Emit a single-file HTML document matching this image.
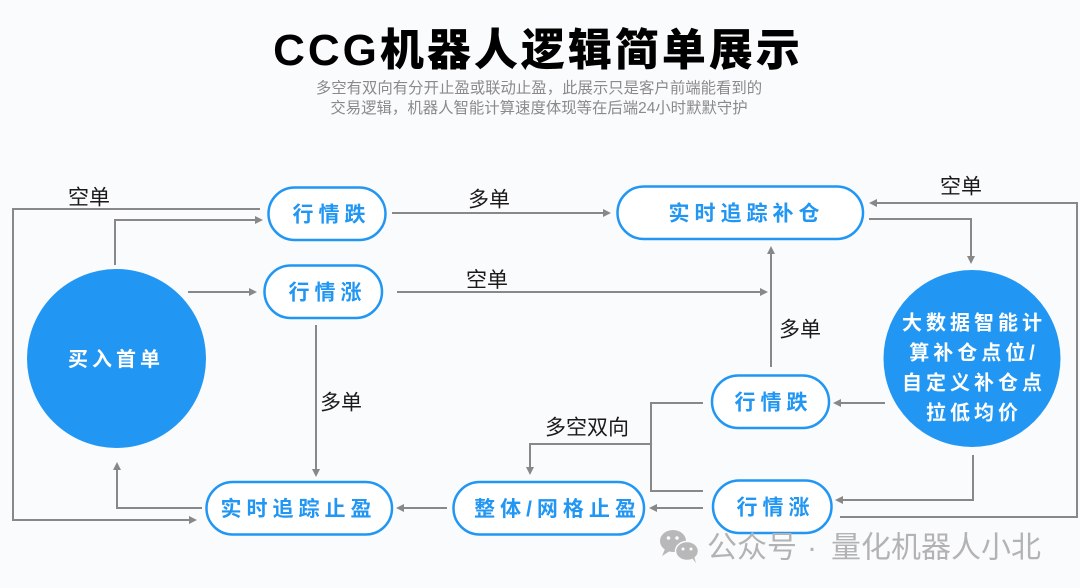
<!DOCTYPE html>
<html>
<head>
<meta charset="utf-8">
<style>
html,body{margin:0;padding:0;background:#fafbfc;}
svg{display:block;}
.t{font-family:"Liberation Sans","Noto Sans CJK SC",sans-serif;}
.pill{fill:#fff;stroke:#2196f3;stroke-width:2.5;}
.pt{fill:#2196f3;font-weight:bold;font-size:21px;letter-spacing:5px;}
.ct{fill:#fff;font-weight:bold;font-size:20px;letter-spacing:4px;}
.ln{fill:none;stroke:#888;stroke-width:2;}
.ah{fill:#888;}
.lb{fill:#1a1a1a;font-size:21px;}
</style>
</head>
<body>
<svg width="1080" height="588" viewBox="0 0 1080 588" xmlns="http://www.w3.org/2000/svg">
<rect x="0" y="0" width="1080" height="588" fill="#fafbfc"/>

<!-- Title -->
<text class="t" x="538" y="65" text-anchor="middle" font-size="44" font-weight="900" fill="#000" letter-spacing="3">CCG机器人逻辑简单展示</text>
<text class="t" x="539" y="93" text-anchor="middle" font-size="15.4" fill="#8a8a8a">多空有双向有分开止盈或联动止盈，此展示只是客户前端能看到的</text>
<text class="t" x="539" y="113" text-anchor="middle" font-size="15.4" fill="#8a8a8a">交易逻辑，机器人智能计算速度体现等在后端24小时默默守护</text>

<!-- Connectors -->
<polyline class="ln" points="260,209 13,209 13,520 190,520"/>
<polygon class="ah" points="197,520 189,516 189,524"/>
<polyline class="ln" points="115,265 115,220 256,220"/>
<polygon class="ah" points="263,220 255,216 255,224"/>
<line class="ln" x1="188" y1="292" x2="250" y2="292"/>
<polygon class="ah" points="257,292 249,288 249,296"/>
<line class="ln" x1="392" y1="213" x2="604" y2="213"/>
<polygon class="ah" points="611,213 603,209 603,217"/>
<line class="ln" x1="397" y1="292" x2="761" y2="292"/>
<polygon class="ah" points="768,292 760,288 760,296"/>
<line class="ln" x1="316" y1="325" x2="316" y2="470"/>
<polygon class="ah" points="316,477 312,469 320,469"/>
<polyline class="ln" points="202,508 117,508 117,469"/>
<polygon class="ah" points="117,462 113,470 121,470"/>
<line class="ln" x1="447" y1="508" x2="403" y2="508"/>
<polygon class="ah" points="396,508 404,504 404,512"/>
<line class="ln" x1="703" y1="508" x2="656" y2="508"/>
<polygon class="ah" points="649,508 657,504 657,512"/>
<polyline class="ln" points="703,403 651,403 651,491 703,491"/>
<polyline class="ln" points="651,444 530,444 530,468"/>
<polygon class="ah" points="530,475 526,467 534,467"/>
<line class="ln" x1="771" y1="367" x2="771" y2="253"/>
<polygon class="ah" points="771,246 767,254 775,254"/>
<polyline class="ln" points="869,219 971,219 971,257"/>
<polygon class="ah" points="971,264 967,256 975,256"/>
<line class="ln" x1="885" y1="403" x2="840" y2="403"/>
<polygon class="ah" points="833,403 841,399 841,407"/>
<polyline class="ln" points="973,455 973,500 842,500"/>
<polygon class="ah" points="835,500 843,496 843,504"/>
<polyline class="ln" points="840,517 1077,517 1077,203 876,203"/>
<polygon class="ah" points="869,203 877,199 877,207"/>

<!-- Labels -->
<text class="t lb" x="68" y="204.5">空单</text>
<text class="t lb" x="468" y="206.5">多单</text>
<text class="t lb" x="466" y="287">空单</text>
<text class="t lb" x="779" y="336.5">多单</text>
<text class="t lb" x="940" y="193.5">空单</text>
<text class="t lb" x="320" y="409.5">多单</text>
<text class="t lb" x="545" y="434.5">多空双向</text>

<!-- Circles -->
<circle cx="116.5" cy="358.5" r="89.5" fill="#2196f3"/>
<text class="t ct" x="116" y="366" text-anchor="middle">买入首单</text>

<circle cx="972" cy="358.5" r="88.5" fill="#2196f3"/>
<text class="t ct" x="974" y="329.5" text-anchor="middle">大数据智能计</text>
<text class="t ct" x="974" y="359.5" text-anchor="middle">算补仓点位/</text>
<text class="t ct" x="974" y="389.5" text-anchor="middle">自定义补仓点</text>
<text class="t ct" x="974" y="419.5" text-anchor="middle">拉低均价</text>

<!-- Pills -->
<rect class="pill" x="268.5" y="187.5" width="117" height="52.5" rx="26.25"/>
<text class="t pt" x="331.5" y="221.5" text-anchor="middle">行情跌</text>

<rect class="pill" x="264.5" y="265.5" width="117.5" height="52.5" rx="26.25"/>
<text class="t pt" x="327.5" y="299.5" text-anchor="middle">行情涨</text>

<rect class="pill" x="617.5" y="186.5" width="245.5" height="52.5" rx="26.25"/>
<text class="t pt" x="746.5" y="220.5" text-anchor="middle">实时追踪补仓</text>

<rect class="pill" x="206.5" y="482" width="185.5" height="52.5" rx="26.25"/>
<text class="t pt" x="298.5" y="516" text-anchor="middle">实时追踪止盈</text>

<rect class="pill" x="453.5" y="482" width="190.5" height="52.5" rx="26.25"/>
<text class="t pt" x="557.5" y="516" text-anchor="middle">整体/网格止盈</text>

<rect class="pill" x="712" y="375.5" width="117" height="52.5" rx="26.25"/>
<text class="t pt" x="773.5" y="409.5" text-anchor="middle">行情跌</text>

<rect class="pill" x="713" y="480.5" width="118.5" height="52.5" rx="26.25"/>
<text class="t pt" x="775.5" y="514.5" text-anchor="middle">行情涨</text>

<!-- Watermark -->
<g fill="#b8b8b8">
  <ellipse cx="673" cy="541" rx="13" ry="11"/>
  <ellipse cx="687" cy="551" rx="11.5" ry="9.5" stroke="#fafbfc" stroke-width="1.5"/>
  <polygon points="665,549 662,556 670,551"/>
  <polygon points="692,558 696,563 694,556"/>
</g>
<g fill="#fafbfc">
  <circle cx="668.5" cy="538" r="1.8"/>
  <circle cx="677" cy="538" r="1.8"/>
  <circle cx="683" cy="549" r="1.5"/>
  <circle cx="691" cy="549" r="1.5"/>
</g>
<text class="t" x="707" y="557.5" font-size="30" fill="#b3b3b3">公众号</text>
<text class="t" x="812" y="557.5" font-size="30" fill="#b3b3b3" text-anchor="middle">·</text>
<text class="t" x="831" y="557.5" font-size="30" fill="#b3b3b3">量化机器人小北</text>
</svg>
</body>
</html>
